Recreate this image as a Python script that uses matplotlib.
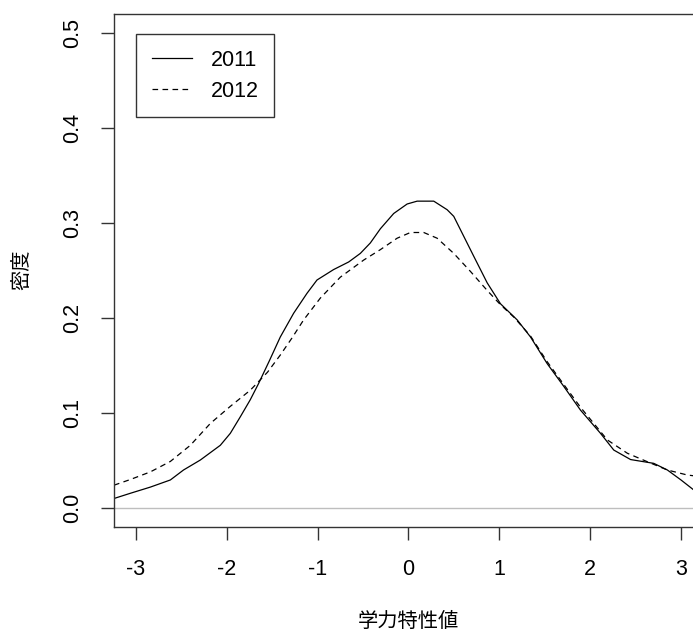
import matplotlib.pyplot as plt

plt.rcParams['font.family'] = ['Liberation Sans', 'Noto Sans CJK JP', 'DejaVu Sans']

# 学力特性値の密度曲線 (2011年, 2012年)
x_2011 = [-3.24, -3.06, -2.84, -2.62, -2.475, -2.29, -2.07, -1.96, -1.85, -1.74,
          -1.649, -1.53, -1.41, -1.263, -1.116, -1.006, -0.823, -0.657, -0.529,
          -0.419, -0.308, -0.162, -0.014, 0.096, 0.279, 0.426, 0.499, 0.609,
          0.719, 0.867, 1.013, 1.197, 1.344, 1.527, 1.71, 1.894, 2.114, 2.26,
          2.445, 2.70, 2.85, 3.0, 3.14, 3.22]
y_2011 = [0.010, 0.0155, 0.022, 0.0295, 0.040, 0.0505, 0.066, 0.0786, 0.096, 0.114,
          0.131, 0.155, 0.180, 0.205, 0.226, 0.240, 0.251, 0.259, 0.268,
          0.279, 0.294, 0.310, 0.320, 0.323, 0.323, 0.314, 0.307, 0.286,
          0.265, 0.237, 0.215, 0.198, 0.180, 0.152, 0.128, 0.103, 0.0786, 0.061,
          0.051, 0.047, 0.040, 0.0295, 0.019, 0.013]

x_2012 = [-3.24, -3.06, -2.84, -2.62, -2.40, -2.18, -1.96, -1.74, -1.55, -1.41,
          -1.281, -1.153, -0.969, -0.749, -0.492, -0.308, -0.124, 0.022, 0.169,
          0.316, 0.499, 0.683, 0.867, 1.013, 1.16, 1.344, 1.527, 1.71, 1.894,
          2.19, 2.41, 2.63, 2.85, 3.07, 3.22]
y_2012 = [0.024, 0.030, 0.038, 0.049, 0.066, 0.089, 0.107, 0.124, 0.143, 0.161,
          0.179, 0.198, 0.221, 0.243, 0.261, 0.272, 0.284, 0.290, 0.290,
          0.284, 0.268, 0.249, 0.229, 0.214, 0.201, 0.181, 0.154, 0.130, 0.106,
          0.0716, 0.0576, 0.0487, 0.040, 0.0347, 0.033]

xticks = [-3, -2, -1, 0, 1, 2, 3]
yticks = [0.0, 0.1, 0.2, 0.3, 0.4, 0.5]

fig = plt.figure(figsize=(6.93, 6.31), dpi=100)
ax = fig.add_axes([114 / 693, 104 / 631, 587 / 693, 513 / 631])

ax.axhline(0, color='#bebebe', lw=1.0, zorder=1)
ax.plot(x_2011, y_2011, '-', color='black', lw=0.9, label='2011')
ax.plot(x_2012, y_2012, '--', color='black', lw=0.9, dashes=(4.5, 3.5), label='2012')

ax.set_xlim(-3.24, 3.22)
ax.set_ylim(-0.02, 0.52)
ax.set_xticks(xticks)
ax.set_xticklabels([str(t) for t in xticks])
ax.set_yticks(yticks)
ax.set_yticklabels([f'{t:.1f}' for t in yticks], rotation=90, va='center')
ax.tick_params(direction='out', length=9.4, width=1.0, labelsize=15.5,
               color='#333333')
ax.tick_params(axis='x', pad=13.5)
ax.tick_params(axis='y', pad=12.5)
for s in ax.spines.values():
    s.set_linewidth(1.0)
    s.set_color('#333333')

leg = ax.legend(loc='upper left', bbox_to_anchor=(136 / 693, 1 - 34 / 631),
                bbox_transform=fig.transFigure, fontsize=15.5, frameon=True,
                fancybox=False, edgecolor='black', handlelength=1.9,
                handletextpad=0.85, labelspacing=0.48, borderpad=0.72,
                borderaxespad=0, handleheight=0.7)
leg.get_frame().set_linewidth(1.0)

fig.text(408 / 693, 1 - 621 / 631, '学力特性値', ha='center', va='center',
         fontsize=14.6, family=['Noto Sans CJK JP'])
fig.text(22 / 693, 1 - 270 / 631, '密度', ha='center', va='center',
         rotation=90, fontsize=14.6, family=['Noto Sans CJK JP'])

fig.savefig('out.png', dpi=100)
